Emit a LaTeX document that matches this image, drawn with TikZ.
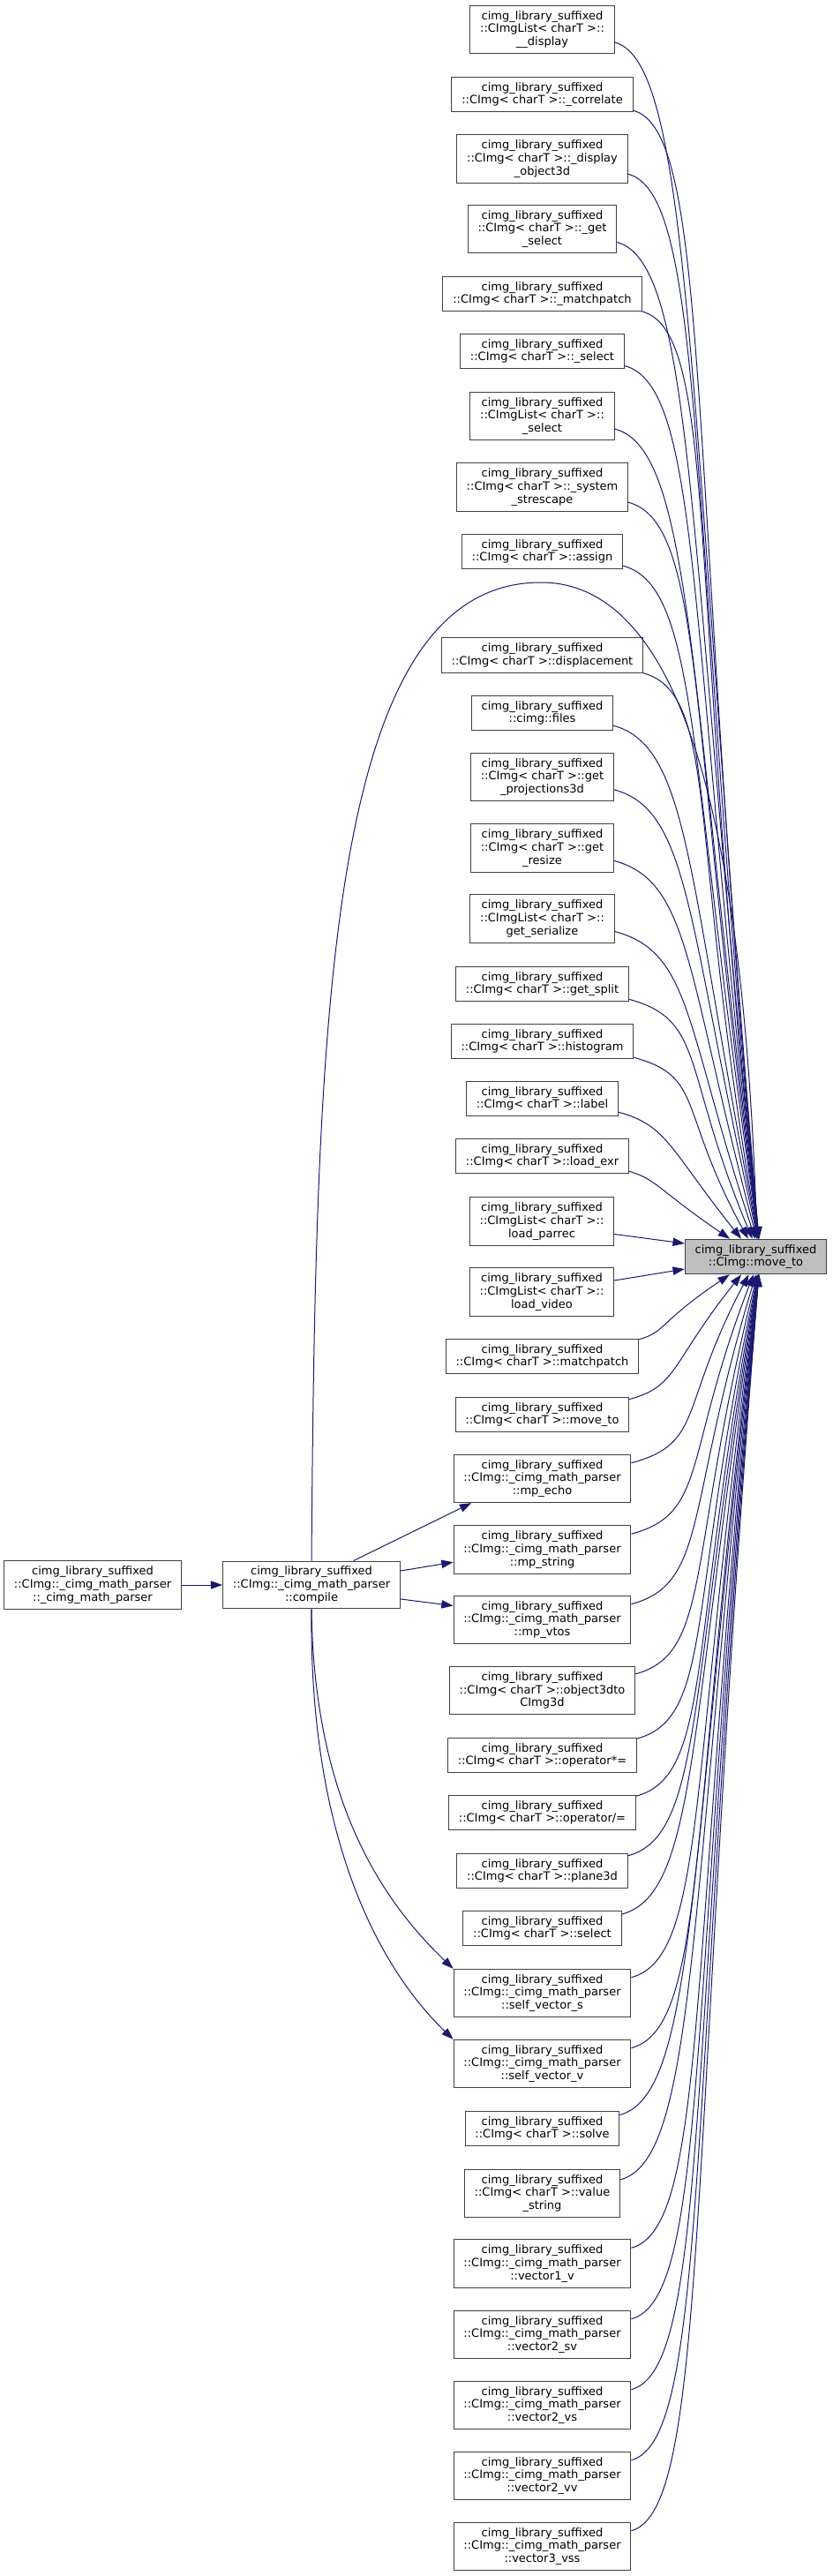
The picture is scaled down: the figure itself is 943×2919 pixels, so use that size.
\documentclass[tikz,border=0pt]{standalone}
\usepackage{fontspec}
\setmainfont{DejaVu Sans}
\usetikzlibrary{arrows.meta,calc}
\definecolor{blunotte}{HTML}{191970}
\definecolor{bordo}{HTML}{404040}
\definecolor{grigio}{HTML}{BFBFBF}

\begin{document}
\begin{tikzpicture}[x=0.75pt, y=-0.75pt, >={Triangle[length=10pt, width=7pt]}]
	\tikzset{fn/.style={rectangle, draw=bordo, fill=white, line width=0.75pt, align=center, inner xsep=8.5pt, inner ysep=4.5pt, font=\fontsize{9.75pt}{11pt}\selectfont},
		call/.style={->, draw=blunotte, line width=0.75pt}}
	\useasboundingbox (0,0) rectangle (943,2919);
	
	\node[fn, fill=grigio] (tgt) at (856.5,1424) {cimg\_library\_suffixed\\::CImg::move\_to};
	\node[fn] (parser) at (105,1796) {cimg\_library\_suffixed\\::CImg::\_cimg\_math\_parser\\::\_cimg\_math\_parser};
	\node[fn] (compile) at (353,1796) {cimg\_library\_suffixed\\::CImg::\_cimg\_math\_parser\\::compile};
	
	% chiamanti sopra: entrano dal lato alto del nodo
	\foreach \n/\y/\txt in {
		dispA/33.5/{::CImgList< charT >::\\\_\_display},
		correlate/107/{::CImg< charT >::\_correlate},
		dispobj/180/{::CImg< charT >::\_display\\\_object3d},
		getselect/259.5/{::CImg< charT >::\_get\\\_select},
		matchpatchA/333/{::CImg< charT >::\_matchpatch},
		selectA/398/{::CImg< charT >::\_select},
		listselect/471.5/{::CImgList< charT >::\\\_select},
		strescape/552/{::CImg< charT >::\_system\\\_strescape},
		assign/625/{::CImg< charT >::assign},
		displacement/742.5/{::CImg< charT >::displacement},
		files/808/{::cimg::files},
		projections/880.5/{::CImg< charT >::get\\\_projections3d},
		resize/961/{::CImg< charT >::get\\\_resize},
		serialize/1041/{::CImgList< charT >::\\get\_serialize},
		getsplit/1115/{::CImg< charT >::get\_split},
		histogram/1180/{::CImg< charT >::histogram},
		label/1245/{::CImg< charT >::label},
		loadexr/1310/{::CImg< charT >::load\_exr}}{
		\node[fn] (\n) at (614.5,\y) {cimg\_library\_suffixed\\\txt};
		\pgfmathsetmacro\dY{1404-\y-16}
		\pgfmathsetmacro\sX{0.75*(3.5-60*exp(-min(\dY,900)/130))}
		\pgfmathsetmacro\aIn{180-atan(0.7*\dY/80)}
		\pgfmathsetmacro\dIn{0.75*veclen(0.7*\dY,80)}
		\pgfmathsetmacro\dOut{0.75*min(90,0.4*\dY)}
		\draw[call] (\n.-10) .. controls +(-15:\dOut pt) and +(\aIn:\dIn pt) .. ([xshift=\sX pt]tgt.north);
	}
	
	\node[fn] (loadparrec) at (614,1384) {cimg\_library\_suffixed\\::CImgList< charT >::\\load\_parrec};
	\node[fn] (loadvideo) at (614,1464) {cimg\_library\_suffixed\\::CImgList< charT >::\\load\_video};
	\draw[call] (loadparrec.-10) -- ($(tgt.west)+(0,-15)$);
	\draw[call] (loadvideo.9) -- ($(tgt.west)+(0,14)$);
	
	% chiamanti sotto: entrano dal lato basso
	\foreach \n/\y/\txt in {
		matchpatch/1537/{::CImg< charT >::matchpatch},
		moveto/1603/{::CImg< charT >::move\_to},
		mpecho/1675.5/{::CImg::\_cimg\_math\_parser\\::mp\_echo},
		mpstring/1756/{::CImg::\_cimg\_math\_parser\\::mp\_string},
		mpvtos/1835.5/{::CImg::\_cimg\_math\_parser\\::mp\_vtos},
		object3d/1915.5/{::CImg< charT >::object3dto\\CImg3d},
		opmul/1989/{::CImg< charT >::operator*=},
		opdiv/2054/{::CImg< charT >::operator/=},
		plane3d/2120/{::CImg< charT >::plane3d},
		select/2185/{::CImg< charT >::select},
		selfvs/2258.5/{::CImg::\_cimg\_math\_parser\\::self\_vector\_s},
		selfvv/2338.5/{::CImg::\_cimg\_math\_parser\\::self\_vector\_v},
		solve/2412/{::CImg< charT >::solve},
		valuestring/2485.5/{::CImg< charT >::value\\\_string},
		vecAv/2565/{::CImg::\_cimg\_math\_parser\\::vector1\_v},
		vecBsv/2645.5/{::CImg::\_cimg\_math\_parser\\::vector2\_sv},
		vecBvs/2725.5/{::CImg::\_cimg\_math\_parser\\::vector2\_vs},
		vecBvv/2805.5/{::CImg::\_cimg\_math\_parser\\::vector2\_vv},
		vecCvss/2885.5/{::CImg::\_cimg\_math\_parser\\::vector3\_vss}}{
		\node[fn] (\n) at (614.5,\y) {cimg\_library\_suffixed\\\txt};
		\pgfmathsetmacro\dY{\y-16-1444}
		\pgfmathsetmacro\sX{0.75*(3.5-60*exp(-min(\dY,900)/130))}
		\pgfmathsetmacro\aIn{atan(0.7*\dY/80)-180}
		\pgfmathsetmacro\dIn{0.75*veclen(0.7*\dY,80)}
		\pgfmathsetmacro\dOut{0.75*min(90,0.4*\dY)}
		\draw[call] (\n.10) .. controls +(15:\dOut pt) and +(\aIn:\dIn pt) .. ([xshift=\sX pt]tgt.south);
	}
	
	\draw[call] (parser) -- (compile);
	\draw[call] (compile.30) -- (mpecho.199);
	\draw[call] (compile.9) -- (mpstring.188);
	\draw[call] (compile.-9) -- (mpvtos.171);
	\draw[call] (compile.south) .. controls (356,2050) and (440,2160) .. (selfvs.north west);
	\draw[call] (compile.south) .. controls (350,2100) and (440,2240) .. (selfvv.north west);
	% arco lungo verso il nodo di destinazione
	\draw[call] (compile.north) .. controls (358,1150) and (370,660) .. (613,660) .. controls (790,660) and (845,1000) .. ([xshift=1pt]tgt.north);
\end{tikzpicture}
\end{document}
